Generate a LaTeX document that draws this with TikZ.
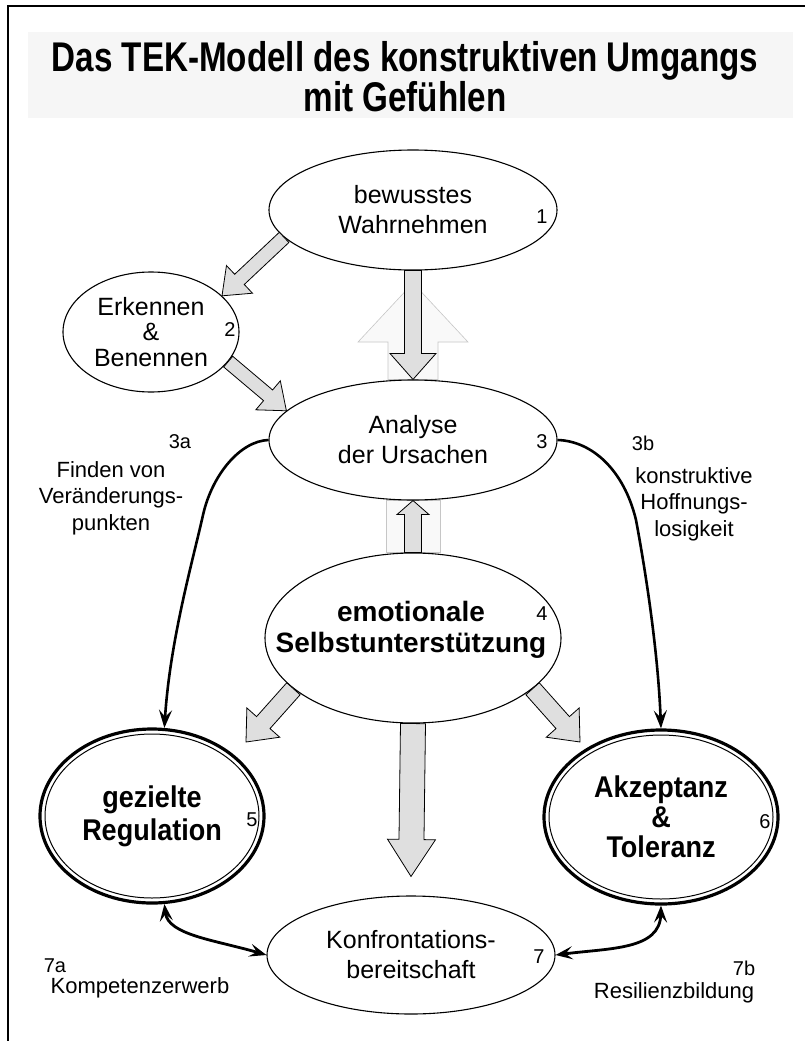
\documentclass[tikz,border=0pt]{standalone}
\usepackage{fontspec}
\setmainfont{Liberation Sans}
\newfontfamily\narrowfont[FakeStretch=0.8]{Liberation Sans}
\newfontfamily\semifont[FakeStretch=0.9]{Liberation Sans}
\usetikzlibrary{shapes.geometric,calc,arrows.meta,backgrounds}

% block arrow: [style] {start} {tip} {shaft half width} {head half width} {head length}
\newcommand\blockarrow[6][]{%
  \coordinate (ba-s) at #2;
  \coordinate (ba-t) at #3;
  \coordinate (ba-h) at ($(ba-t)!#6!(ba-s)$);
  \draw[blockarrow,#1]
    ($(ba-s)!#4!90:(ba-t)$) -- ($(ba-h)!#4!90:(ba-t)$) --
    ($(ba-h)!#5!90:(ba-t)$) -- (ba-t) --
    ($(ba-h)!#5!-90:(ba-t)$) -- ($(ba-h)!#4!-90:(ba-t)$) --
    ($(ba-s)!#4!-90:(ba-t)$) -- cycle;
}

\begin{document}
\begin{tikzpicture}[x=1pt,y=-1pt,
  oval/.style={ellipse, draw, line width=1.1pt, fill=white, inner sep=0pt,
    align=center, font=\fontsize{25}{30}\selectfont},
  bigoval/.style={ellipse, draw, line width=3.2pt, fill=white, inner sep=0pt,
    align=center, font=\semifont\bfseries\fontsize{30}{33}\selectfont},
  innerring/.style={ellipse, draw, line width=1pt, inner sep=0pt},
  num/.style={font=\fontsize{20}{24}\selectfont, inner sep=0pt},
  lbl/.style={font=\fontsize{22}{26.5}\selectfont, align=center, inner sep=0pt},
  titletext/.style={font=\narrowfont\bfseries\fontsize{41.5}{40}\selectfont, inner sep=0pt},
  blockarrow/.style={draw=black, line width=0.8pt, fill=gray!25, line join=miter},
  faint/.style={draw=gray!45, line width=0.6pt, fill=gray!5},
  curvearrow/.style={line width=2.6pt, -{Stealth[length=18pt,width=13pt,inset=7pt]}},
  twoway/.style={line width=2.8pt,
    {Stealth[length=17pt,width=13pt,inset=7pt]}-{Stealth[length=17pt,width=13pt,inset=7pt]}}
]
\useasboundingbox (0,0) rectangle (805,1041);

% frame and title
\draw[line width=2.5pt] (8,1041) -- (8,6) -- (805,6);
\node[titletext, anchor=base] (t1) at (405,71) {Das TEK-Modell des konstruktiven Umgangs};
\node[titletext, anchor=base] (t2) at (405,111) {mit Gefühlen};

% stations
\node[oval, minimum width=288pt, minimum height=120pt] (e1) at (413,210) {bewusstes\\Wahrnehmen};
\node[oval, minimum width=176pt, minimum height=120pt, font=\fontsize{25}{25.5}\selectfont]
  (e2) at (151,332) {Erkennen\\\&\\Benennen};
\node[oval, minimum width=288pt, minimum height=120pt] (e3) at (413,440) {Analyse\\der Ursachen};
\node[oval, minimum width=296pt, minimum height=170pt] (e4) at (413,638) {};
\node[font=\bfseries\fontsize{28}{31}\selectfont, align=center, inner sep=0pt]
  (e4txt) at (411,630) {emotionale\\Selbstunterstützung};
\node[bigoval, minimum width=224pt, minimum height=174pt] (c5) at (152,816) {gezielte\\Regulation};
\node[innerring, minimum width=214pt, minimum height=164pt] (c5in) at (c5.center) {};
\node[bigoval, minimum width=234pt, minimum height=174pt, font=\semifont\bfseries\fontsize{30}{30}\selectfont]
  (c6) at (661,817) {Akzeptanz\\\&\\Toleranz};
\node[innerring, minimum width=224pt, minimum height=164pt] (c6in) at (c6.center) {};
\node[oval, minimum width=288pt, minimum height=118pt] (e7) at (411,955) {Konfrontations-\\bereitschaft};

% station numbers
\node[num] (n1) at (542,217) {1};
\node[num] (n2) at (230,330) {2};
\node[num] (n3) at (542,442) {3};
\node[num] (n4) at (542,614) {4};
\node[num] (n5) at (252,820) {5};
\node[num] (n6) at (765,822) {6};
\node[num] (n7) at (539,957) {7};

% path labels
\node[num] (l3a) at (180,442) {3a};
\node[lbl] (l3atxt) at (111,498) {Finden von\\Veränderungs-\\punkten};
\node[num] (l3b) at (643,443) {3b};
\node[lbl] (l3btxt) at (694,504) {konstruktive\\Hoffnungs-\\losigkeit};
\node[num, anchor=base] (l7a) at (55,972) {7a};
\node[lbl, anchor=base] (l7atxt) at (140,993) {Kompetenzerwerb};
\node[num, anchor=base] (l7b) at (744,975) {7b};
\node[lbl, anchor=base] (l7btxt) at (674,998) {Resilienzbildung};

% free ends of block arrows
\coordinate (ftip) at (413,283);
\coordinate (ltip) at (246,742);
\coordinate (rtip) at (580,742);
\coordinate (dtip) at ($(e7.north)+(0,-19)$);

% faint shapes behind everything
\begin{scope}[on background layer]
  \fill[gray!7] (28,32) rectangle (793,118);
  \blockarrow[faint]{(e3.north)}{(ftip)}{25pt}{55pt}{59pt}
  \draw[faint] ($(e3.south)+(-27,0)$) rectangle ($(e4.north)+(27,0)$);
\end{scope}

% grey block arrows
\blockarrow{(e1.192)}{(e2.27)}{7pt}{19pt}{24pt}
\blockarrow{(e2.-21)}{(e3.167)}{7pt}{19pt}{24pt}
\blockarrow{(e1.south)}{(e3.north)}{8.5pt}{23pt}{26pt}
\blockarrow{(e4.north)}{(e3.south)}{8.5pt}{16pt}{14pt}
\blockarrow{(e4.203)}{(ltip)}{9pt}{22pt}{26pt}
\blockarrow{(e4.-23)}{(rtip)}{9pt}{22pt}{26pt}
\blockarrow{(e4.south)}{(dtip)}{12.5pt}{24pt}{37pt}

% the two ways out of the analysis
\draw[curvearrow] (e3.west) .. controls (240,441) and (212,475) .. (203,515)
  .. controls (193,560) and (170,640) .. (c5.82);
\draw[curvearrow] (e3.east) .. controls (592,441) and (624,470) .. (636,520)
  .. controls (645,568) and (658,650) .. (c6.north);

% confrontation links
\draw[twoway] (c5.-82) .. controls (168,935) and (215,940) .. (e7.west);
\draw[twoway] (e7.east) .. controls (610,948) and (660,950) .. (c6.south);
\end{tikzpicture}
\end{document}
